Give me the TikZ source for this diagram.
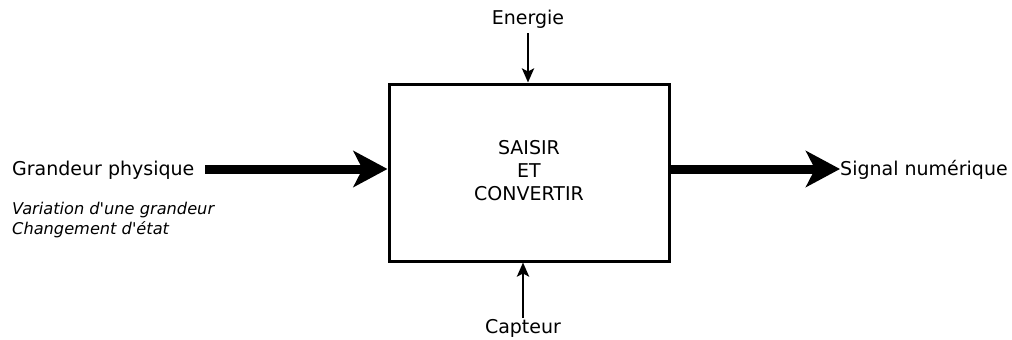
\documentclass[tikz,border=0pt]{standalone}
\usepackage{fontspec}
\setmainfont{DejaVu Sans}
\usetikzlibrary{arrows.meta}
\begin{document}
\begin{tikzpicture}[x=1pt,y=-1pt,
  lbl/.style={font=\fontsize{19}{23}\selectfont, inner sep=0pt},
  note/.style={font=\fontsize{16.2}{20}\selectfont\itshape, inner sep=0pt, anchor=west},
  bigarrow/.style={line width=9pt, -{Stealth[length=34pt,width=36pt,inset=9pt]}},
  thinarrow/.style={line width=2.8pt, -{Stealth[length=14pt,width=12pt,inset=3pt]}},
  blockbox/.style={draw, line width=3pt, minimum width=280pt, minimum height=177pt, inner sep=0pt}]
\useasboundingbox (0,0) rectangle (1012,340);
\node[blockbox] (box) at (529,172.5) {};
\node[lbl, align=center, font=\fontsize{19}{23}\selectfont] (txt) at (529,171) {SAISIR\\ET\\CONVERTIR};
\node[lbl, anchor=west] (gp) at (12,170) {Grandeur physique};
\coordinate (gpend) at (205,169);
\node[lbl, anchor=west] (sn) at (840,170) {Signal numérique};
\coordinate (snstart) at (840,169);
\node[note] (n1) at (12,210) {Variation d\textquotesingle une grandeur};
\node[note] (n2) at (12,230) {Changement d\textquotesingle état};
\node[lbl] (en) at (528,19.5) {Energie};
\coordinate (enstart) at (528,33);
\node[lbl] (ca) at (523,328.5) {Capteur};
\coordinate (castart) at (523,318);
\draw[bigarrow] (gpend) -- (box.west |- gpend);
\draw[bigarrow] (box.east |- gpend) -- (snstart);
\draw[thinarrow] (enstart) -- (enstart |- box.north);
\draw[thinarrow] (castart) -- (castart |- box.south);
\end{tikzpicture}
\end{document}
